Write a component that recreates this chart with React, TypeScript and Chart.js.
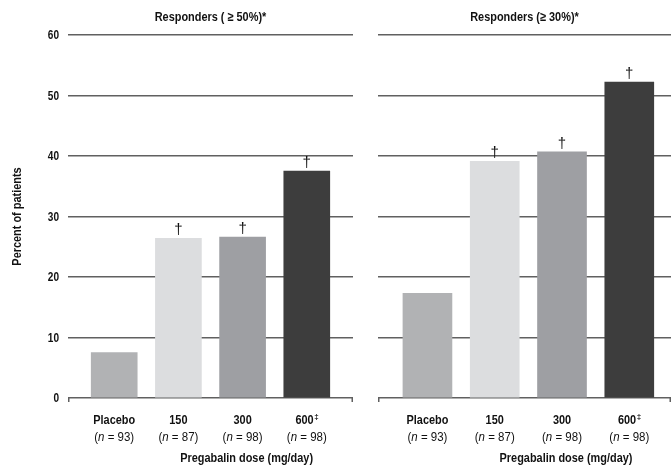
import React, { useEffect, useRef } from "react";
import { Chart, registerables } from "chart.js";

Chart.register(...registerables);

const categories = ["Placebo", "150", "300", "600"];
const categorySuperscripts = ["", "", "", "‡"];
const sampleSizes = [93, 87, 98, 98];
const responders50 = [7.5, 26.4, 26.6, 37.5];
const responders30 = [17.3, 39.1, 40.7, 52.2];
const significant = [false, true, true, true];
const barColors = ["#b1b2b4", "#dcdddf", "#9e9fa3", "#3d3d3d"];
const yTicks = [0, 10, 20, 30, 40, 50, 60];

const FONT = "'Liberation Sans', Arial, sans-serif";
const TEXT = "#111111";
const GRID = "#606060";
const SX_BOLD = 0.84;
const SX_REG = 0.92;

type PanelOpts = {
  title: string;
  values: number[];
  showY: boolean;
  yWidth: number;
  rightPad: number;
  barThickness: number;
  xMin: number;
  xMax: number;
};

function textW(ctx: CanvasRenderingContext2D, s: string, font: string, sx: number) {
  ctx.font = font;
  return ctx.measureText(s).width * sx;
}

function drawT(ctx: CanvasRenderingContext2D, s: string, x: number, y: number, font: string, sx: number) {
  ctx.save();
  ctx.font = font;
  ctx.textAlign = "left";
  ctx.translate(x, y);
  ctx.scale(sx, 1);
  ctx.fillText(s, 0, 0);
  ctx.restore();
}

function drawCentered(ctx: CanvasRenderingContext2D, s: string, cx: number, y: number, font: string, sx: number) {
  const w = textW(ctx, s, font, sx);
  drawT(ctx, s, cx - w / 2, y, font, sx);
}

function makePlugin(opts: PanelOpts) {
  return {
    id: "decor",
    afterDraw(chart: any) {
      const ctx = chart.ctx as CanvasRenderingContext2D;
      const area = chart.chartArea;
      const xs = chart.scales.x;
      const ys = chart.scales.y;
      const BOLD13 = `bold 13px ${FONT}`;
      const REG = `12.5px ${FONT}`;
      const ITAL = `italic 12.5px ${FONT}`;
      ctx.save();
      ctx.fillStyle = TEXT;
      ctx.textBaseline = "alphabetic";

      drawCentered(ctx, opts.title, (area.left + area.right) / 2, 21, BOLD13, SX_BOLD);

      if (opts.showY) {
        const f = `bold 12px ${FONT}`;
        yTicks.forEach((t) => {
          const s = String(t);
          const w = textW(ctx, s, f, SX_BOLD);
          drawT(ctx, s, 59 - w, ys.getPixelForValue(t) + 4.3, f, SX_BOLD);
        });
      }

      const meta = chart.getDatasetMeta(0);
      meta.data.forEach((el: any, i: number) => {
        if (significant[i]) drawCentered(ctx, "†", el.x, el.y - 4, `15px ${FONT}`, 1);
      });

      categories.forEach((c, i) => {
        const cx = xs.getPixelForValue(i);
        const w1 = textW(ctx, c, BOLD13, SX_BOLD);
        const sup = categorySuperscripts[i];
        const supFont = `bold 8px ${FONT}`;
        const wSup = sup ? textW(ctx, sup, supFont, 1) : 0;
        const start1 = cx - (w1 + wSup) / 2;
        drawT(ctx, c, start1, 424, BOLD13, SX_BOLD);
        if (sup) drawT(ctx, sup, start1 + w1 + 0.5, 419, supFont, 1);

        const p1 = "(";
        const p2 = "n";
        const p3 = ` = ${sampleSizes[i]})`;
        const a = textW(ctx, p1, REG, SX_REG);
        const b = textW(ctx, p2, ITAL, SX_REG);
        const c3 = textW(ctx, p3, REG, SX_REG);
        let x = cx - (a + b + c3) / 2;
        drawT(ctx, p1, x, 441, REG, SX_REG);
        x += a;
        drawT(ctx, p2, x, 441, ITAL, SX_REG);
        x += b;
        drawT(ctx, p3, x, 441, REG, SX_REG);
      });

      drawCentered(ctx, "Pregabalin dose (mg/day)", xs.getPixelForValue(2) + 4, 462, BOLD13, SX_BOLD);

      if (opts.showY) {
        ctx.save();
        ctx.translate(21, (area.top + area.bottom) / 2);
        ctx.rotate(-Math.PI / 2);
        drawCentered(ctx, "Percent of patients", 0, 0, BOLD13, SX_BOLD);
        ctx.restore();
      }

      ctx.strokeStyle = GRID;
      ctx.lineWidth = 1.5;
      ctx.beginPath();
      ctx.moveTo(area.left + 0.75, area.bottom);
      ctx.lineTo(area.left + 0.75, area.bottom + 4);
      ctx.moveTo(area.right - 0.75, area.bottom);
      ctx.lineTo(area.right - 0.75, area.bottom + 4);
      ctx.stroke();
      ctx.restore();
    },
  };
}

function Panel(props: PanelOpts & { width: number; left: number }) {
  const ref = useRef<HTMLCanvasElement | null>(null);
  useEffect(() => {
    if (!ref.current) return;
    const o = props;
    const chart = new Chart(ref.current, {
      type: "bar",
      data: {
        datasets: [
          {
            data: o.values.map((v, i) => ({ x: i, y: v })),
            backgroundColor: barColors,
            borderWidth: 0,
            barThickness: o.barThickness,
          },
        ],
      },
      options: {
        responsive: false,
        animation: false,
        layout: { padding: { top: 35, right: o.rightPad, left: 0, bottom: 0 } },
        plugins: { legend: { display: false }, tooltip: { enabled: false }, title: { display: false } },
        scales: {
          x: {
            type: "linear",
            offset: false,
            min: o.xMin,
            max: o.xMax,
            grid: { display: false },
            border: { display: false },
            ticks: { display: false },
            afterFit: (s: any) => {
              s.height = 67;
            },
          },
          y: {
            min: yTicks[0],
            max: yTicks[yTicks.length - 1],
            grid: { color: GRID, lineWidth: 1.5, drawTicks: false },
            border: { display: false },
            ticks: { display: false, stepSize: yTicks[1] - yTicks[0] },
            afterFit: (s: any) => {
              s.width = o.yWidth;
            },
          },
        },
      } as any,
      plugins: [makePlugin(o)],
    });
    return () => chart.destroy();
  }, []);
  return (
    <canvas
      ref={ref}
      width={props.width}
      height={465}
      style={{ position: "absolute", top: 0, left: props.left, display: "block" }}
    />
  );
}

export default function App() {
  return (
    <div style={{ position: "absolute", top: 0, left: 0, width: 671, height: 465, background: "#fff" }}>
      <Panel
        title="Responders ( ≥ 50%)*"
        values={responders50}
        showY={true}
        yWidth={68}
        rightPad={7}
        barThickness={46}
        xMin={-0.72}
        xMax={3.72}
        width={360}
        left={0}
      />
      <Panel
        title="Responders (≥ 30%)*"
        values={responders30}
        showY={false}
        yWidth={18}
        rightPad={0}
        barThickness={49}
        xMin={-0.735}
        xMax={3.62}
        width={311}
        left={360}
      />
    </div>
  );
}
